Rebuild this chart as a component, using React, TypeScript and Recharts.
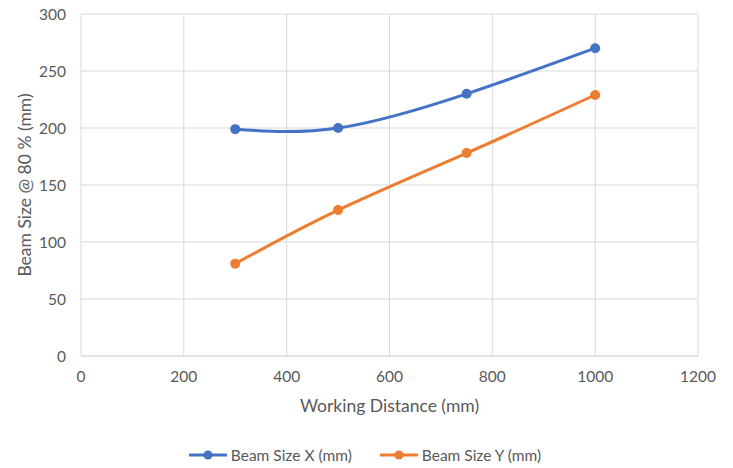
import { LineChart, Line, XAxis, YAxis, CartesianGrid, Legend } from 'recharts';

const distances = [300, 500, 750, 1000];
const beamSizeX = [199, 200, 230, 270];
const beamSizeY = [81, 128, 178, 229];
const xTicks = [0, 200, 400, 600, 800, 1000, 1200];
const yTicks = [0, 50, 100, 150, 200, 250, 300];

const data = distances.map((d, i) => ({ distance: d, sx: beamSizeX[i], sy: beamSizeY[i] }));

const FONT = 'Lato, "Open Sans", sans-serif';
const TEXT = '#595959';
const BLUE = '#4472C4';
const ORANGE = '#ED7D31';

const YTitle = (props: any) => {
  const { viewBox } = props;
  const cx = 24;
  const cy = viewBox.y + viewBox.height / 2;
  return (
    <text
      x={cx}
      y={cy}
      transform={`rotate(-90 ${cx} ${cy})`}
      textAnchor="middle"
      dominantBaseline="central"
      fill={TEXT}
      fontSize={17.5}
      fontFamily={FONT}
    >
      Beam Size @ 80 % (mm)
    </text>
  );
};

const LegendContent = () => {
  const items = [
    { label: 'Beam Size X (mm)', color: BLUE },
    { label: 'Beam Size Y (mm)', color: ORANGE },
  ];
  return (
    <div style={{ display: 'flex', justifyContent: 'center', gap: 27, height: 20, alignItems: 'center' }}>
      {items.map((it) => (
        <div key={it.label} style={{ display: 'flex', alignItems: 'center' }}>
          <svg width={40} height={12}>
            <line x1={1} y1={6} x2={39} y2={6} stroke={it.color} strokeWidth={3} />
            <circle cx={20} cy={6} r={4.5} fill={it.color} />
          </svg>
          <span style={{ marginLeft: 3, color: TEXT, fontSize: 15.5, fontFamily: FONT }}>{it.label}</span>
        </div>
      ))}
    </div>
  );
};

export default function App() {
  return (
    <div style={{ position: 'absolute', left: 0, top: 0, background: '#fff' }}>
      <LineChart width={733} height={468} data={data} margin={{ top: 14, right: 35, left: 0, bottom: 3 }}>
        <CartesianGrid stroke="#D9D9D9" strokeWidth={1} />
        <XAxis
          dataKey="distance"
          type="number"
          domain={[0, 1200]}
          ticks={xTicks}
          tickLine={false}
          axisLine={{ stroke: '#D9D9D9' }}
          tickMargin={9}
          height={89}
          tick={{ fill: TEXT, fontSize: 15.5, fontFamily: FONT }}
          label={{
            value: 'Working Distance (mm)',
            position: 'insideBottom',
            offset: 33,
            fill: TEXT,
            fontSize: 17.5,
            fontFamily: FONT,
          }}
        />
        <YAxis
          type="number"
          domain={[0, 300]}
          ticks={yTicks}
          tickLine={false}
          axisLine={false}
          width={81}
          tickMargin={9}
          tick={{ fill: TEXT, fontSize: 15.5, fontFamily: FONT }}
          label={<YTitle />}
        />
        <Legend
          verticalAlign="bottom"
          content={<LegendContent />}
          wrapperStyle={{ left: 0, width: 729 }}
        />
        <Line
          type="natural"
          dataKey="sx"
          name="Beam Size X (mm)"
          stroke={BLUE}
          strokeWidth={3}
          dot={{ r: 5, fill: BLUE, stroke: BLUE, strokeWidth: 0 }}
          isAnimationActive={false}
        />
        <Line
          type="natural"
          dataKey="sy"
          name="Beam Size Y (mm)"
          stroke={ORANGE}
          strokeWidth={3}
          dot={{ r: 5, fill: ORANGE, stroke: ORANGE, strokeWidth: 0 }}
          isAnimationActive={false}
        />
      </LineChart>
    </div>
  );
}
